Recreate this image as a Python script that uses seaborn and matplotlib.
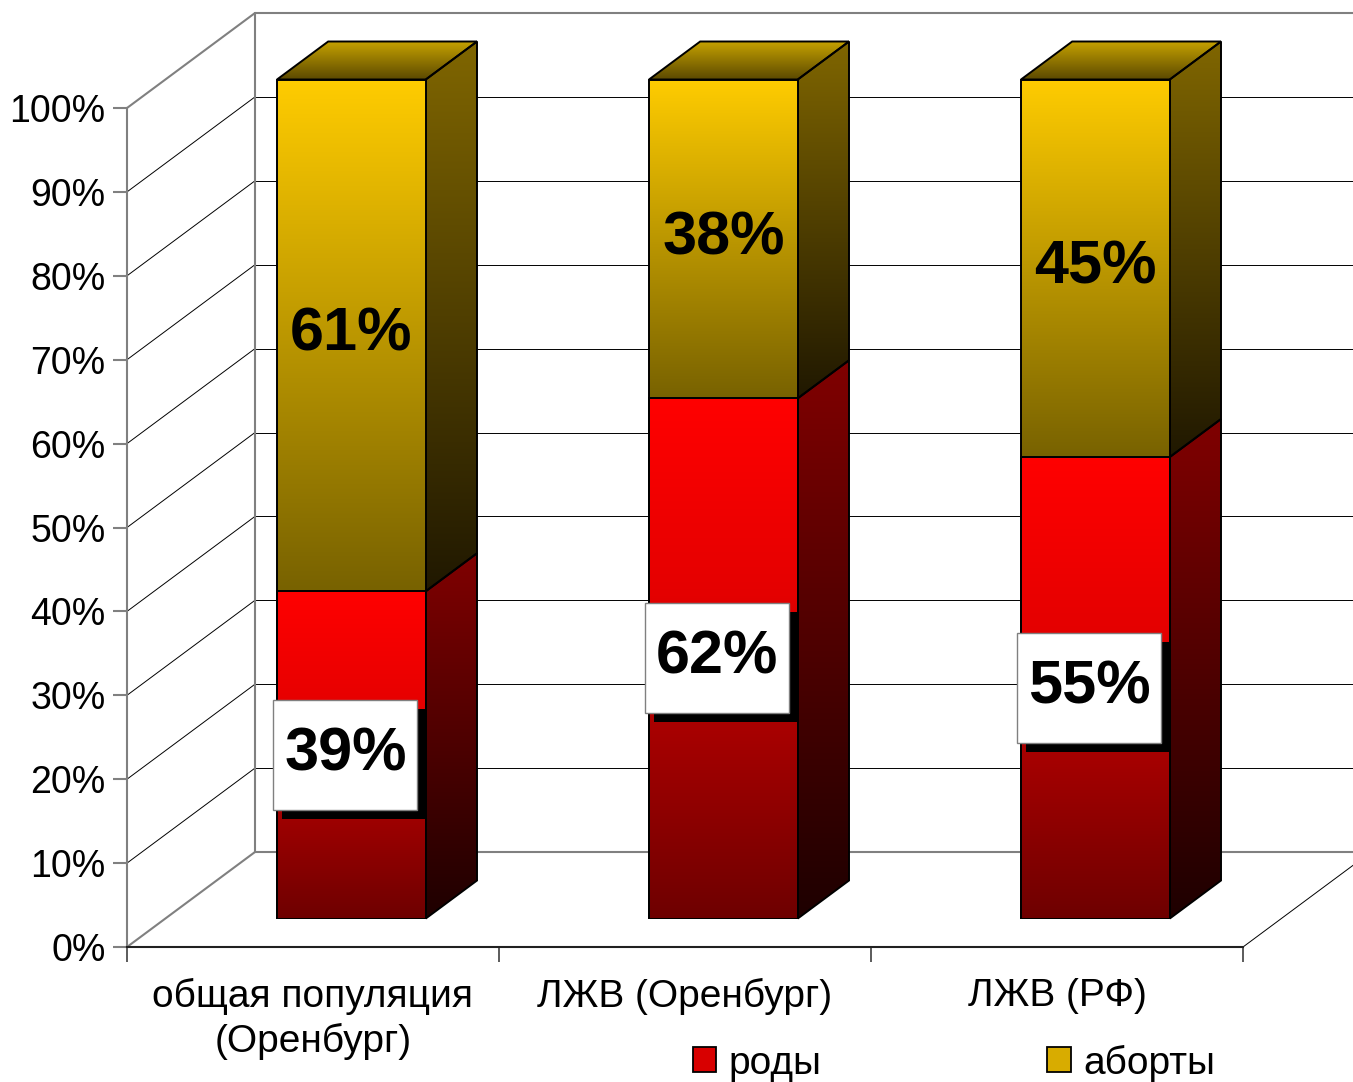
import matplotlib
matplotlib.use('Agg')
import matplotlib.pyplot as plt
import matplotlib.transforms as mtransforms
from matplotlib.colors import LinearSegmentedColormap
from matplotlib.patches import Polygon, Rectangle, Patch
import numpy as np
import pandas as pd
import seaborn as sns

sns.set_style('white')
plt.rcParams['font.family'] = ['Liberation Sans', 'DejaVu Sans']
plt.rcParams['text.color'] = 'black'

# data
categories = ['общая популяция\n(Оренбург)', 'ЛЖВ (Оренбург)', 'ЛЖВ (РФ)']
births = [39, 62, 55]       # роды, %
abortions = [61, 38, 45]    # аборты, %
series_names = ['роды', 'аборты']
y_ticks = list(range(0, 101, 10))
y_labels = [f'{t}%' for t in y_ticks]

W, H, DPI = 1353, 1082, 100

# layout of the 3D box in pixels (front plane + depth offset)
FX0, FX1 = 127, 1243
FY0, FY100 = 947, 108
DEPTH_PX = (128, 95)
BAR_FRONT = 0.3   # bars sit between 30% and 70% of the floor depth
BAR_DEPTH = 0.4

ux = (FX1 - FX0) / len(categories)
uy = (FY0 - FY100) / 100
DX = DEPTH_PX[0] / ux
DY = DEPTH_PX[1] / uy
NCAT = len(categories)

GRAY = '#808080'


def gradient(ax, xy, stops, zorder, edge=True):
    poly = Polygon(xy, closed=True, facecolor='none',
                   edgecolor='black' if edge else 'none', lw=1.4,
                   zorder=zorder + 0.5, clip_on=False, joinstyle='miter')
    ax.add_patch(poly)
    xs = [p[0] for p in xy]
    ys = [p[1] for p in xy]
    cmap = LinearSegmentedColormap.from_list('g', stops)
    grad = np.linspace(0, 1, 256).reshape(-1, 1)
    im = ax.imshow(grad, cmap=cmap, origin='lower', aspect='auto',
                   extent=(min(xs), max(xs), min(ys), max(ys)),
                   interpolation='bilinear', zorder=zorder)
    im.set_clip_path(poly)
    return im


fig = plt.figure(figsize=(W / DPI, H / DPI), dpi=DPI)
fig.patch.set_facecolor('white')

# ---- main axes: walls, floor, ticks ----
ax = fig.add_axes([FX0 / W, 1 - FY0 / H, (FX1 - FX0) / W, (FY0 - FY100) / H])
ax.set_facecolor('none')

for v in y_ticks:
    col = GRAY if v in (0, 100) else 'black'
    lw = 1.5 if v in (0, 100) else 0.7
    ax.plot([0, DX], [v, v + DY], color=col, lw=lw, clip_on=False, zorder=1)
    ax.plot([DX, NCAT + DX], [v + DY, v + DY], color=col, lw=lw, clip_on=False, zorder=1)
ax.plot([DX, DX], [DY, 100 + DY], color=GRAY, lw=1.5, clip_on=False, zorder=1)
ax.plot([NCAT, NCAT + DX], [0, DY], color='black', lw=0.7, clip_on=False, zorder=1)

ax.set_xlim(0, NCAT)
ax.set_ylim(0, 100)
ax.set_yticks(y_ticks, labels=y_labels)
ax.set_xticks(np.arange(NCAT) + 0.5, labels=categories)
ax.set_xticks(np.arange(NCAT + 1), minor=True)
ax.tick_params(axis='y', left=True, length=10, width=1.5, color=GRAY,
               pad=5.5, labelsize=27, labelcolor='black', direction='out')
ax.tick_params(axis='x', which='major', bottom=True, length=0, pad=22,
               labelsize=28, labelcolor='black')
ax.tick_params(axis='x', which='minor', bottom=True, length=11, width=1.2,
               color='#404040', direction='out')
for lab in ax.get_xticklabels():
    lab.set_linespacing(1.3)
for s in ('top', 'right'):
    ax.spines[s].set_visible(False)
ax.spines['left'].set_color(GRAY)
ax.spines['left'].set_linewidth(1.5)
ax.spines['bottom'].set_color('#202020')
ax.spines['bottom'].set_linewidth(1.5)

# ---- bars: drawn in a plane shifted into the depth ----
dx = BAR_DEPTH * DX
dy = BAR_DEPTH * DY
Y_TOP = 100 + dy + 3   # room for the bar tops

bx = fig.add_axes([(FX0 + BAR_FRONT * DEPTH_PX[0]) / W,
                   1 - (FY0 - BAR_FRONT * DEPTH_PX[1]) / H,
                   (FX1 - FX0) / W, Y_TOP * uy / H])

df = pd.DataFrame({'cat': categories, 'births': births, 'abortions': abortions})
df['total'] = df['births'] + df['abortions']

sns.barplot(data=df, x='cat', y='total', color='#ffcc00', saturation=1,
            width=0.4, edgecolor='black', linewidth=1.4, ax=bx)
sns.barplot(data=df, x='cat', y='births', color='#ff0000', saturation=1,
            width=0.4, edgecolor='black', linewidth=1.4, ax=bx)

top_bars = bx.containers[0]
low_bars = bx.containers[1]

red_front = [(0, '#6e0000'), (0.38, '#aa0000'), (0.62, '#e40000'), (1, '#ff0000')]
yel_front = [(0, '#786200'), (1, '#ffcc00')]
red_side = [(0, '#1e0000'), (1, '#800000')]
yel_side = [(0, '#201800'), (1, '#806600')]
top_face = [(0, '#5a4800'), (1, '#c4a000')]

for yp, rp in zip(top_bars, low_bars):
    x0 = rp.get_x()
    x1 = x0 + rp.get_width()
    mid = rp.get_height()
    total = yp.get_height()
    # front faces: gradient under seaborn's outlines
    for p in (yp, rp):
        p.set_facecolor('none')
        p.set_zorder(6)
    gradient(bx, [(x0, mid), (x1, mid), (x1, total), (x0, total)], yel_front, 5, edge=False)
    gradient(bx, [(x0, 0), (x1, 0), (x1, mid), (x0, mid)], red_front, 5, edge=False)
    # right side faces
    gradient(bx, [(x1, 0), (x1 + dx, dy), (x1 + dx, mid + dy), (x1, mid)], red_side, 2)
    gradient(bx, [(x1, mid), (x1 + dx, mid + dy), (x1 + dx, total + dy), (x1, total)], yel_side, 2)
    # top face
    gradient(bx, [(x0, total), (x0 + dx, total + dy), (x1 + dx, total + dy), (x1, total)], top_face, 2)

# value labels
shadow = mtransforms.offset_copy(bx.transData, fig=fig, x=9, y=-9, units='dots')
bw = 72 / ux
bh = 55 / uy
for i, (b, a) in enumerate(zip(births, abortions)):
    cx = i - 6 / ux
    cy = b / 2
    bx.add_patch(Rectangle((cx - bw, cy - bh), 2 * bw, 2 * bh, facecolor='black',
                           edgecolor='none', transform=shadow, zorder=8, clip_on=False))
    bx.add_patch(Rectangle((cx - bw, cy - bh), 2 * bw, 2 * bh, facecolor='white',
                           edgecolor=GRAY, lw=1, zorder=9, clip_on=False))
    bx.text(cx, cy, f'{b}%', ha='center', va='center', fontsize=44,
            fontweight='bold', color='black', zorder=10)
    bx.text(i, b + a / 2, f'{a}%', ha='center', va='center', fontsize=44,
            fontweight='bold', color='black', zorder=10)

bx.set_xlim(-0.5, NCAT - 0.5)
bx.set_ylim(0, Y_TOP)
bx.axis('off')

fig.legend(handles=[Patch(facecolor='#d80000', edgecolor='black', lw=1.3),
                    Patch(facecolor='#d8ac00', edgecolor='black', lw=1.3)],
           labels=series_names, ncol=2, loc='center',
           bbox_to_anchor=(954 / W, 19 / H), frameon=False, fontsize=28,
           handlelength=0.6, handleheight=0.6, handletextpad=0.33,
           columnspacing=5.8)

fig.savefig('out.png', dpi=DPI, facecolor='white')
